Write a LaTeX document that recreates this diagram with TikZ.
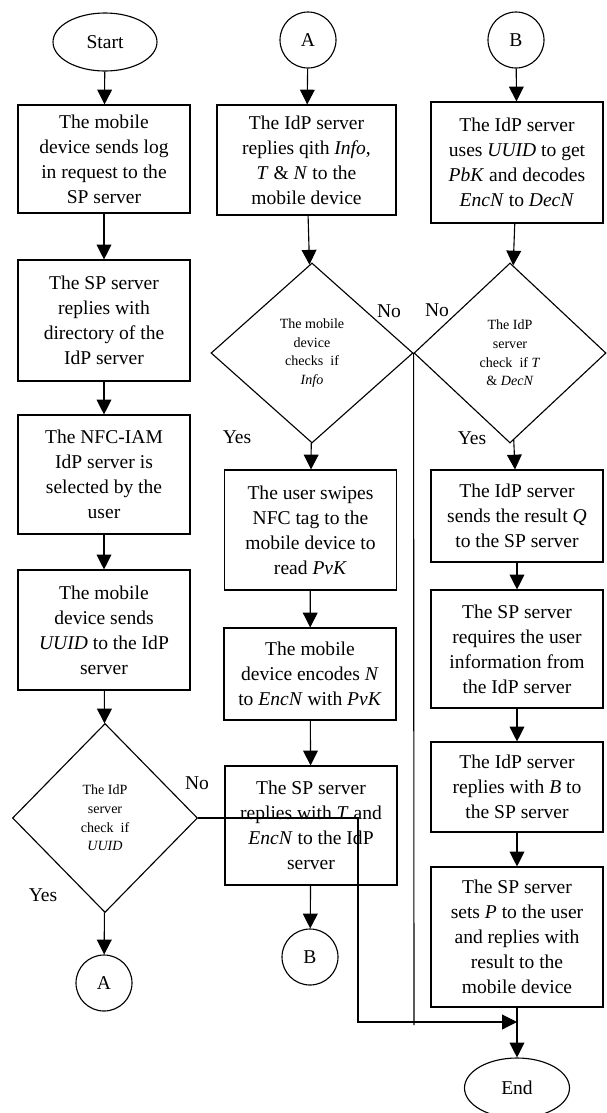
\documentclass[tikz,border=0pt]{standalone}
\usepackage{fontspec}
\setmainfont{Liberation Serif}
\usetikzlibrary{shapes.geometric,arrows.meta}
\newlength{\pxl}
\setlength{\pxl}{0.025cm}

\begin{document}
\begin{tikzpicture}[x=0.025cm,y=-0.025cm,line width=0.8pt,
    proc_node/.style={rectangle,draw,align=center,inner sep=2pt,minimum width=172\pxl,font=\fontsize{13.9}{17.8}\selectfont},
    dec_node/.style={diamond,draw,align=center,inner sep=0pt,font=\fontsize{10}{13.2}\selectfont},
    term_node/.style={ellipse,draw,inner sep=0pt,minimum width=104\pxl,minimum height=58\pxl,font=\fontsize{13.9}{17.8}\selectfont},
    conn_node/.style={circle,draw,inner sep=0pt,minimum size=56\pxl,font=\fontsize{13.9}{17.8}\selectfont},
    lbl_node/.style={inner sep=0pt,font=\fontsize{13.9}{17.8}\selectfont},
    flow_line/.style={-{Triangle[length=10.5pt,width=10.5pt]}}]
    \useasboundingbox (0,0) rectangle (606,1113);
    % left column
    \node[term_node] (start) at (105,42) {Start};
    \node[proc_node,minimum height=108\pxl] (login) at (104,159) {The mobile\\device sends log\\in request to the\\SP server};
    \node[proc_node,minimum height=121\pxl] (dir) at (104,320.5) {The SP server\\replies with\\directory of the\\IdP server};
    \node[proc_node,minimum height=119\pxl] (sel) at (104,474.5) {The NFC-IAM\\IdP server is\\selected by the\\user};
    \node[proc_node,minimum height=120\pxl] (uuid) at (104,630) {The mobile\\device sends\\\textit{UUID} to the IdP\\server};
    \node[dec_node,minimum width=185\pxl,minimum height=189\pxl] (chk_uuid) at (105,818) {The IdP\\server\\check\enspace if\\\textit{UUID}};
    \node[conn_node] (a_out) at (104,983) {A};
    \node[lbl_node] (yes_1) at (43,895) {Yes};
    \node[lbl_node] (no_1) at (197,783) {No};
    % middle column
    \node[conn_node] (a_in) at (308,40) {A};
    \node[proc_node,minimum width=179\pxl,minimum height=110\pxl] (info) at (306.5,160) {The IdP server\\replies qith \textit{Info},\\\textit{T} \& \textit{N} to the\\mobile device};
    \node[dec_node,minimum width=202\pxl,minimum height=180\pxl] (chk_info) at (312,353) {The mobile\\device\\checks\enspace if\\\textit{Info}};
    \node[proc_node,minimum height=120\pxl] (swipe) at (310.5,530) {The user swipes\\NFC tag to the\\mobile device to\\read \textit{PvK}};
    \node[proc_node,minimum height=92\pxl] (enc) at (310,674) {The mobile\\device encodes \textit{N}\\to \textit{EncN} with \textit{PvK}};
    \node[proc_node,minimum height=119\pxl] (send_t) at (311,825.5) {The SP server\\replies with \textit{T} and\\\textit{EncN} to the IdP\\server};
    \node[conn_node] (b_out) at (310,957) {B};
    \node[lbl_node] (yes_2) at (237,437) {Yes};
    \node[lbl_node] (no_2) at (389,311) {No};
    % right column
    \node[conn_node] (b_in) at (516,40) {B};
    \node[proc_node,minimum height=121\pxl] (dec) at (517,162.5) {The IdP server\\uses \textit{UUID} to get\\\textit{PbK} and decodes\\\textit{EncN} to \textit{DecN}};
    \node[dec_node,minimum width=192\pxl,minimum height=180\pxl] (chk_t) at (510,353) {The IdP\\server\\check\enspace if \textit{T}\\\& \textit{DecN}};
    \node[proc_node,minimum height=92\pxl] (res_q) at (517,516) {The IdP server\\sends the result \textit{Q}\\to the SP server};
    \node[proc_node,minimum height=118\pxl] (req) at (517,649) {The SP server\\requires the user\\information from\\the IdP server};
    \node[proc_node,minimum height=90\pxl] (rep_b) at (517,787) {The IdP server\\replies with \textit{B} to\\the SP server};
    \node[proc_node,minimum height=140\pxl] (set_p) at (517,937) {The SP server\\sets \textit{P} to the user\\and replies with\\result to the\\mobile device};
    \node[term_node,minimum width=105\pxl,minimum height=60\pxl] (end) at (517,1088) {End};
    \node[lbl_node] (yes_3) at (472,438) {Yes};
    \node[lbl_node] (no_3) at (437,310) {No};
    \coordinate (bend) at (358,1022);
    \coordinate (join) at (517,1022);
    \coordinate (no_foot) at (414,1025);

    \draw[flow_line] (start) -- (login);
    \draw[flow_line] (login) -- (dir);
    \draw[flow_line] (dir) -- (sel);
    \draw[flow_line] (sel) -- (uuid);
    \draw[flow_line] (uuid) -- (chk_uuid);
    \draw[flow_line] (chk_uuid) -- (a_out);
    \draw[flow_line] (chk_uuid.east) -- (bend |- chk_uuid.east) -- (bend) -- (join);
    \draw[flow_line] (a_in) -- (info);
    \draw[flow_line] (info) -- (chk_info);
    \draw[flow_line] (chk_info) -- (swipe);
    \draw[flow_line] (swipe) -- (enc);
    \draw[flow_line] (enc) -- (send_t);
    \draw[flow_line] (send_t) -- (b_out);
    \draw (chk_info.east) -- (no_foot);
    \draw[flow_line] (b_in) -- (dec);
    \draw[flow_line] (dec) -- (chk_t);
    \draw[flow_line] (chk_t) -- (res_q);
    \draw[flow_line] (res_q) -- (req);
    \draw[flow_line] (req) -- (rep_b);
    \draw[flow_line] (rep_b) -- (set_p);
    \draw[flow_line] (set_p) -- (end);
\end{tikzpicture}
\end{document}
